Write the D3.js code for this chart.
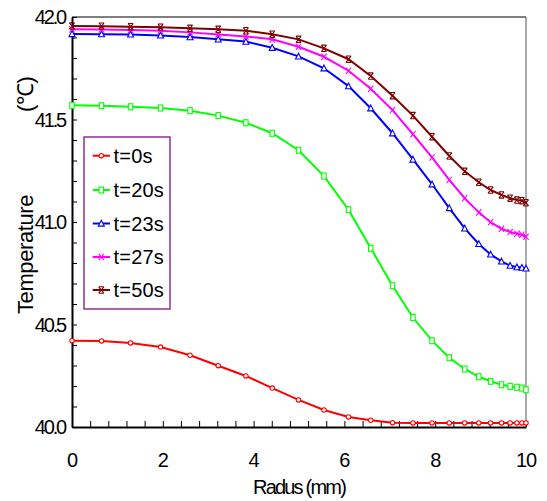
<!DOCTYPE html>
<html><head><meta charset="utf-8">
<script src="https://cdn.jsdelivr.net/npm/d3@7/dist/d3.min.js"></script>
<style>body{margin:0;background:#fff}svg{display:block}</style>
</head><body>
<script>
const radius = [0, 0.65, 1.29, 1.95, 2.6, 3.22, 3.83, 4.41, 4.99, 5.55, 6.09, 6.58, 7.06, 7.51, 7.93, 8.31, 8.65, 8.96, 9.22, 9.46, 9.65, 9.80, 9.91, 10.0];
const t0  = [40.421, 40.420, 40.410, 40.390, 40.350, 40.299, 40.249, 40.190, 40.132, 40.083, 40.049, 40.033, 40.021, 40.020, 40.020, 40.020, 40.020, 40.020, 40.020, 40.020, 40.020, 40.020, 40.020, 40.020];
const t20 = [41.569, 41.567, 41.562, 41.556, 41.543, 41.519, 41.484, 41.433, 41.350, 41.224, 41.060, 40.872, 40.689, 40.534, 40.421, 40.338, 40.283, 40.245, 40.223, 40.206, 40.198, 40.194, 40.190, 40.182];
const t23 = [41.917, 41.916, 41.915, 41.910, 41.902, 41.891, 41.880, 41.850, 41.808, 41.750, 41.663, 41.555, 41.433, 41.305, 41.184, 41.068, 40.969, 40.893, 40.842, 40.808, 40.787, 40.780, 40.777, 40.774];
const t27 = [41.940, 41.939, 41.937, 41.933, 41.925, 41.915, 41.905, 41.891, 41.855, 41.806, 41.738, 41.650, 41.546, 41.428, 41.315, 41.205, 41.116, 41.047, 40.999, 40.967, 40.951, 40.943, 40.938, 40.928];
const t50 = [41.956, 41.955, 41.953, 41.950, 41.945, 41.940, 41.933, 41.916, 41.891, 41.847, 41.794, 41.712, 41.616, 41.519, 41.416, 41.322, 41.247, 41.194, 41.156, 41.132, 41.116, 41.107, 41.104, 41.094];
const seriesNames = ["t=0s", "t=20s", "t=23s", "t=27s", "t=50s"];
const seriesValues = [t0, t20, t23, t27, t50];
const seriesColors = ["#ff0000", "#00ff00", "#0000ff", "#ff00ff", "#800000"];
const seriesMarkers = ["circle", "square", "triangle", "cross", "hourglass"];
const xTickLabels = [0, 2, 4, 6, 8, 10];
const yTickLabels = [40.0, 40.5, 41.0, 41.5, 42.0];

const W = 547, H = 501;
const L = 72, R = 526, T = 17, B = 427;
const FONT = "Liberation Sans, Arial, sans-serif";
const svg = d3.select("body").append("svg").attr("width", W).attr("height", H);
const x = d3.scaleLinear().domain([0, 10]).range([L, R]);
const y = d3.scaleLinear().domain([40, 42]).range([B, T]);

// frame (top/right)
svg.append("line").attr("x1", L).attr("x2", R).attr("y1", T).attr("y2", T).attr("stroke", "#000").attr("stroke-width", 1.2);
svg.append("line").attr("x1", R).attr("x2", R).attr("y1", T).attr("y2", B).attr("stroke", "#555").attr("stroke-width", 1);

// axes
const xMinor = d3.range(0, 10.001, 0.4);
const yMinor = d3.range(40, 42.001, 0.1);
const xAxis = d3.axisBottom(x).tickValues(xMinor).tickSizeInner(-6).tickSizeOuter(0).tickFormat("");
const yAxis = d3.axisLeft(y).tickValues(yMinor).tickSizeInner(-5).tickSizeOuter(0).tickFormat("");
const gx = svg.append("g").attr("transform", `translate(0,${B})`).call(xAxis);
const gy = svg.append("g").attr("transform", `translate(${L},0)`).call(yAxis);
[gx, gy].forEach(g => {
  g.select(".domain").attr("stroke", "#000").attr("stroke-width", 2);
  g.selectAll(".tick line").attr("stroke", "#000").attr("stroke-width", 1);
});

// tick labels
svg.append("g").selectAll("text").data(xTickLabels).join("text")
  .attr("x", d => x(d)).attr("y", 467)
  .attr("text-anchor", "middle")
  .attr("font-family", FONT).attr("font-size", 20)
  .attr("letter-spacing", -1)
  .text(d => d);
svg.append("g").selectAll("text").data(yTickLabels).join("text")
  .attr("x", 65).attr("y", d => y(d) + 7)
  .attr("text-anchor", "end")
  .attr("font-family", FONT).attr("font-size", 20)
  .attr("letter-spacing", -2.2)
  .text(d => d.toFixed(1));

// axis titles
svg.append("text").attr("x", 299).attr("y", 494).attr("text-anchor", "middle")
  .attr("font-family", FONT).attr("font-size", 20)
  .attr("letter-spacing", -1.8)
  .text("Radus (mm)");
const yt = svg.append("text").attr("transform", "translate(33,314) rotate(-90)")
  .attr("text-anchor", "start")
  .attr("font-family", FONT).attr("font-size", 22)
  .attr("letter-spacing", -0.4);
yt.append("tspan").attr("x", 0).text("Temperature");
yt.append("tspan").attr("x", 202).text("(℃)");

// marker drawer
function drawMarker(g, type, color) {
  const sw = 1.1;
  if (type === "circle") {
    g.append("circle").attr("r", 2.2).attr("fill", "#fff").attr("stroke", color).attr("stroke-width", sw);
  } else if (type === "square") {
    g.append("rect").attr("x", -2.2).attr("y", -3).attr("width", 4.4).attr("height", 6).attr("fill", "#fff").attr("stroke", color).attr("stroke-width", sw);
  } else if (type === "triangle") {
    g.append("path").attr("d", "M0,-3.2L3,2.6L-3,2.6Z").attr("fill", "#fff").attr("stroke", color).attr("stroke-width", sw);
  } else if (type === "cross") {
    g.append("path").attr("d", "M-2.6,-3.2L2.6,3.2M2.6,-3.2L-2.6,3.2").attr("fill", "none").attr("stroke", color).attr("stroke-width", sw);
  } else if (type === "hourglass") {
    g.append("path").attr("d", "M-2.6,-3.2L2.6,3.2M2.6,-3.2L-2.6,3.2M-2.6,-3.2H2.6M-2.6,3.2H2.6").attr("fill", "none").attr("stroke", color).attr("stroke-width", sw);
  }
}

// series
const line = d3.line().x(d => x(d[0])).y(d => y(d[1]));
seriesValues.forEach((vals, i) => {
  const pts = radius.map((r, j) => [r, vals[j]]);
  const g = svg.append("g");
  g.append("path").datum(pts).attr("d", line).attr("fill", "none")
    .attr("stroke", seriesColors[i]).attr("stroke-width", 2);
  pts.forEach(p => {
    const m = g.append("g").attr("transform", `translate(${x(p[0])},${y(p[1])})`);
    drawMarker(m, seriesMarkers[i], seriesColors[i]);
  });
});

// legend
const lg = svg.append("g");
lg.append("rect").attr("x", 84).attr("y", 137).attr("width", 86).attr("height", 172)
  .attr("fill", "#fff").attr("stroke", "#903090").attr("stroke-width", 1.5);
const legY = [155.7, 190, 223.5, 257, 290];
seriesNames.forEach((n, i) => {
  lg.append("line").attr("x1", 92.7).attr("x2", 110).attr("y1", legY[i]).attr("y2", legY[i])
    .attr("stroke", seriesColors[i]).attr("stroke-width", 2);
  const m = lg.append("g").attr("transform", `translate(101.3,${legY[i]})`);
  drawMarker(m, seriesMarkers[i], seriesColors[i]);
  lg.append("text").attr("x", 113.5).attr("y", legY[i] + 7)
    .attr("font-family", FONT).attr("font-size", 20)
    .attr("letter-spacing", 0.2)
    .text(n);
});
</script>
</body></html>
